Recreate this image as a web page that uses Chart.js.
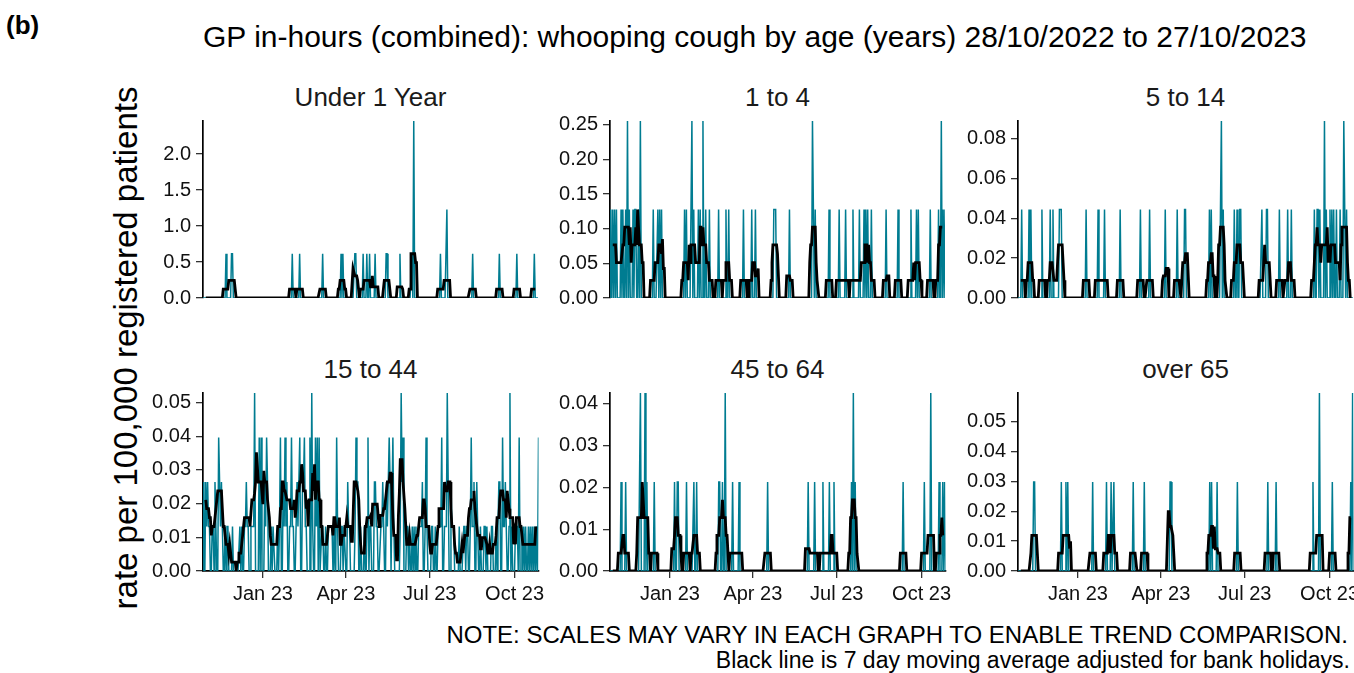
<!DOCTYPE html>
<html>
<head>
<meta charset="utf-8">
<script src="https://cdn.jsdelivr.net/npm/chart.js@4.4.0/dist/chart.umd.min.js"></script>
<style>
  html, body { margin: 0; padding: 0; background: #fff; overflow: hidden; }
  #page { position: relative; width: 1354px; height: 673px; font-family: "Liberation Sans", Arial, sans-serif; color: #000; }
  .txt { position: absolute; white-space: nowrap; line-height: 1; }
  .strip { font-size: 26px; color: #1a1a1a; transform: translate(-50%, -50%); }
  canvas { position: absolute; }
</style>
</head>
<body>
<div id="page">
  <div class="txt" style="left:6px; top:12px; font-size:26px; font-weight:bold;">(b)</div>
  <div class="txt" id="title" style="left:203px; top:22px; font-size:30px;">GP in-hours (combined): whooping cough by age (years) 28/10/2022 to 27/10/2023</div>
  <div class="txt" id="ylab" style="left:125px; top:348px; font-size:33px; transform: translate(-50%, -50%) rotate(-90deg);">rate per 100,000 registered patients</div>
  <div class="txt" style="right:6px; top:623px; font-size:24px; text-align:right;">NOTE: SCALES MAY VARY IN EACH GRAPH TO ENABLE TREND COMPARISON.</div>
  <div class="txt" style="right:4px; top:649px; font-size:23px; text-align:right;">Black line is 7 day moving average adjusted for bank holidays.</div>
</div>
<script>
// Day 0 = Fri 28/10/2022, day 364 = Fri 27/10/2023
const numDays = 365;
const dayTicks = [65, 155, 246, 338];
const monthLabels = ["Jan 23", "Apr 23", "Jul 23", "Oct 23"];
const bankHolidays = [59, 60, 66, 161, 164, 185, 192, 213, 304];

const ageGroups = ["Under 1 Year", "1 to 4", "5 to 14", "15 to 44", "45 to 64", "over 65"];
// rate per 100,000 for a single case in each age group
const caseRate = [0.615, 0.1277, 0.0444, 0.0132, 0.0213, 0.0298];

const yTicks = [
  [0, 0.5, 1.0, 1.5, 2.0],
  [0, 0.05, 0.10, 0.15, 0.20, 0.25],
  [0, 0.02, 0.04, 0.06, 0.08],
  [0, 0.01, 0.02, 0.03, 0.04, 0.05],
  [0, 0.01, 0.02, 0.03, 0.04],
  [0, 0.01, 0.02, 0.03, 0.04, 0.05]
];
const yDecimals = [1, 2, 2, 2, 2, 2];

// daily case counts (days with cases only)
const under1Days  = [25, 31, 32, 97, 105, 130, 150, 152, 165, 166, 174, 178, 181, 187, 199, 200, 214, 227, 229, 258, 265, 293, 322, 341, 360];
const under1Cases = [1, 1, 1, 1, 1, 1, 1, 1, 1, 1, 1, 1, 1, 1, 1, 1, 1, 1, 4, 1, 2, 1, 1, 1, 1];

const age1to4Days  = [0, 3, 5, 7, 12, 14, 17, 19, 21, 25, 27, 28, 31, 33, 47, 52, 54, 56, 81, 83, 89, 91, 96, 98, 101, 104, 108, 118, 126, 129, 145, 154, 158, 178, 179, 180, 195, 220, 221, 223, 238, 249, 256, 264, 271, 276, 278, 280, 284, 300, 313, 327, 333, 335, 348, 357, 360, 362, 364];
const age1to4Cases = [1, 1, 1, 1, 1, 1, 1, 2, 1, 1, 1, 1, 1, 2, 1, 1, 1, 1, 1, 1, 2, 1, 1, 1, 2, 1, 1, 1, 1, 1, 1, 1, 1, 1, 1, 1, 1, 2, 1, 1, 1, 1, 1, 1, 1, 1, 1, 1, 1, 1, 1, 1, 1, 1, 1, 1, 2, 1, 1];

const age5to14Days  = [4, 12, 14, 26, 35, 38, 45, 46, 47, 74, 87, 94, 111, 133, 143, 160, 173, 181, 182, 208, 210, 220, 221, 223, 235, 238, 241, 242, 265, 270, 271, 284, 293, 297, 322, 325, 326, 328, 333, 335, 339, 341, 343, 346, 350, 354, 355, 357];
const age5to14Cases = [1, 1, 1, 1, 1, 1, 1, 1, 1, 1, 1, 1, 1, 1, 1, 1, 1, 1, 1, 1, 1, 1, 2, 1, 1, 1, 1, 1, 1, 1, 1, 1, 1, 1, 1, 1, 1, 1, 2, 1, 1, 1, 1, 1, 1, 2, 1, 1];

// 15 to 44: every day, rows run Fri..Thu
const age15to44 = [
  2, 0, 0, 2, 1, 2, 1,
  1, 0, 0, 1, 1, 0, 2,
  1, 0, 0, 3, 2, 1, 2,
  1, 0, 0, 1, 0, 1, 1,
  0, 0, 0, 0, 1, 0, 0,
  0, 0, 0, 0, 0, 1, 0,
  1, 0, 0, 1, 1, 2, 1,
  1, 0, 0, 1, 1, 1, 1,
  4, 0, 0, 0, 0, 3, 0,
  3, 0, 0, 0, 2, 1, 3,
  2, 0, 0, 0, 1, 0, 1,
  1, 0, 0, 0, 1, 0, 1,
  3, 0, 0, 2, 1, 3, 1,
  2, 0, 0, 1, 1, 3, 1,
  1, 0, 0, 1, 2, 1, 2,
  3, 0, 0, 2, 2, 3, 1,
  1, 0, 0, 0, 3, 0, 4,
  1, 0, 0, 3, 1, 3, 0,
  3, 0, 0, 1, 1, 0, 0,
  1, 0, 0, 1, 1, 1, 1,
  1, 0, 0, 1, 0, 3, 1,
  0, 0, 0, 1, 1, 0, 1,
  1, 0, 0, 2, 1, 1, 0,
  0, 0, 0, 0, 1, 3, 2,
  2, 0, 0, 1, 0, 0, 0,
  1, 0, 0, 1, 3, 0, 1,
  1, 0, 0, 0, 2, 2, 1,
  1, 0, 0, 0, 1, 1, 2,
  1, 0, 0, 2, 1, 2, 3,
  2, 0, 0, 3, 1, 0, 0,
  0, 0, 0, 0, 1, 4, 2,
  3, 0, 0, 0, 1, 1, 0,
  1, 0, 0, 1, 0, 1, 0,
  1, 0, 0, 1, 1, 1, 1,
  2, 0, 0, 1, 3, 1, 0,
  0, 0, 0, 1, 1, 0, 0,
  1, 0, 0, 1, 1, 1, 1,
  3, 0, 0, 1, 1, 1, 4,
  2, 0, 0, 2, 1, 1, 1,
  0, 0, 0, 0, 0, 1, 0,
  0, 0, 0, 1, 1, 0, 1,
  1, 0, 0, 1, 3, 1, 1,
  2, 0, 0, 2, 1, 0, 0,
  1, 0, 0, 0, 1, 1, 0,
  1, 0, 0, 0, 0, 1, 1,
  0, 0, 0, 1, 0, 1, 2,
  2, 0, 0, 3, 1, 1, 2,
  1, 0, 0, 1, 4, 0, 1,
  0, 0, 0, 1, 1, 1, 0,
  3, 0, 0, 1, 0, 1, 0,
  1, 0, 0, 1, 0, 1, 0,
  1, 0, 0, 1, 0, 1, 0,
  3
];

const age45to64Days  = [12, 17, 32, 33, 38, 40, 48, 70, 73, 74, 83, 91, 94, 118, 119, 122, 125, 133, 140, 171, 215, 222, 231, 238, 243, 262, 264, 266, 318, 341, 348, 357, 361, 363];
const age45to64Cases = [1, 1, 1, 2, 2, 1, 1, 1, 1, 1, 1, 1, 1, 1, 1, 1, 2, 1, 1, 1, 1, 1, 1, 1, 1, 1, 2, 1, 1, 1, 2, 1, 1, 1];

const over65Days  = [17, 18, 47, 52, 54, 81, 96, 101, 104, 125, 137, 165, 166, 208, 210, 216, 238, 271, 280, 320, 327, 341, 361, 363];
const over65Cases = [1, 1, 1, 1, 1, 1, 1, 1, 1, 1, 1, 1, 1, 1, 1, 1, 1, 1, 1, 1, 2, 1, 1, 2];

function expand(days, cases) {
  const c = new Array(numDays).fill(0);
  days.forEach((d, i) => { c[d] += cases[i]; });
  return c;
}

function isWorkingDay(d) {
  const wd = d % 7; // 0 = Friday, 1 = Saturday, 2 = Sunday
  return wd !== 1 && wd !== 2 && !bankHolidays.includes(d);
}

// centred 7 day average over working days in the window
function movingAverage(counts, rate) {
  return counts.map((_, d) => {
    if (d < 3 || d > counts.length - 4) return null;
    let sum = 0, open = 0;
    for (let k = d - 3; k <= d + 3; k++) {
      sum += counts[k];
      if (isWorkingDay(k)) open++;
    }
    return sum * rate / open;
  });
}

const dailyCounts = [
  expand(under1Days, under1Cases),
  expand(age1to4Days, age1to4Cases),
  expand(age5to14Days, age5to14Cases),
  age15to44,
  expand(age45to64Days, age45to64Cases),
  expand(over65Days, over65Cases)
];

Chart.defaults.font.family = '"Liberation Sans", Arial, sans-serif';

const page = document.getElementById("page");
const panelLeft = [203, 610, 1018];
const panelTop = [121, 393];
const plotW = 335;
const plotH = [177, 178];
const xAxisH = 36;

for (let i = 0; i < 6; i++) {
  const col = i % 3, row = Math.floor(i / 3);
  const bottomRow = row === 1;
  const left = panelLeft[col], top = panelTop[row];

  const strip = document.createElement("div");
  strip.className = "txt strip";
  strip.textContent = ageGroups[i];
  strip.style.left = (left + plotW / 2) + "px";
  strip.style.top = (bottomRow ? 369 : 97) + "px";
  page.appendChild(strip);

  const canvas = document.createElement("canvas");
  let w = 60 + plotW + 4;
  let h = 20 + plotH[row] + (bottomRow ? xAxisH : 4);
  canvas.width = w; canvas.height = h;
  canvas.style.width = w + "px"; canvas.style.height = h + "px";
  page.appendChild(canvas);

  const rate = caseRate[i];
  const counts = dailyCounts[i];
  const daily = counts.map((c, d) => ({ x: d, y: c * rate }));
  const avg = movingAverage(counts, rate).map((v, d) => ({ x: d, y: v }));
  const yMax = Math.max(...counts) * rate;

  const xScale = {
    type: "linear",
    min: 0,
    max: numDays - 1,
    display: bottomRow,
    afterBuildTicks: s => { s.ticks = dayTicks.map(v => ({ value: v })); },
    ticks: {
      callback: v => monthLabels[dayTicks.indexOf(v)],
      font: { size: 20 },
      color: "#111",
      padding: 4,
      maxRotation: 0
    },
    grid: { drawOnChartArea: false, tickLength: 7, color: "#333", lineWidth: 1.3 },
    border: { display: true, color: "#000", width: 1.7 }
  };
  if (bottomRow) xScale.afterFit = s => { s.height = xAxisH; };

  const chart = new Chart(canvas, {
    type: "line",
    data: {
      datasets: [
        { data: avg, borderColor: "#000", borderWidth: 2.8, pointRadius: 0, order: 0, spanGaps: false },
        { data: daily, borderColor: "#007C91", borderWidth: 1.5, pointRadius: 0, order: 1 }
      ]
    },
    options: {
      responsive: false,
      maintainAspectRatio: false,
      animation: false,
      devicePixelRatio: 1,
      layout: { padding: { top: 4, right: 4, bottom: bottomRow ? 0 : 4, left: 0 } },
      plugins: { legend: { display: false }, tooltip: { enabled: false } },
      scales: {
        x: xScale,
        y: {
          min: 0,
          max: yMax,
          afterBuildTicks: s => { s.ticks = yTicks[i].map(v => ({ value: v })); },
          afterFit: s => { s.width = 60; },
          ticks: {
            callback: v => v.toFixed(yDecimals[i]),
            font: { size: 20 },
            color: "#111",
            padding: 5
          },
          grid: { drawOnChartArea: false, tickLength: 7, color: "#333", lineWidth: 1.3 },
          border: { display: true, color: "#000", width: 1.7 }
        }
      }
    }
  });

  // size the canvas so the plot area is exactly plotW x plotH, then place it
  const ca = chart.chartArea;
  w += plotW - (ca.right - ca.left);
  h += plotH[row] - (ca.bottom - ca.top);
  chart.resize(w, h);
  const ca2 = chart.chartArea;
  canvas.style.left = (left - ca2.left) + "px";
  canvas.style.top = (top - ca2.top) + "px";
}
</script>
</body>
</html>
